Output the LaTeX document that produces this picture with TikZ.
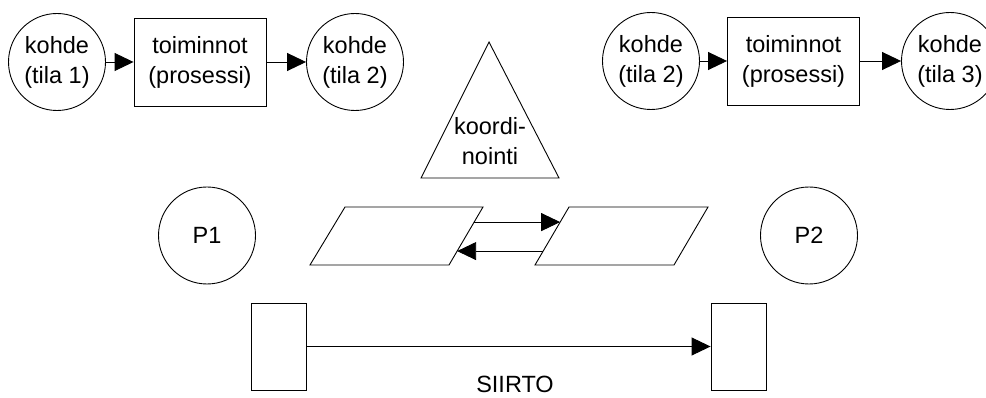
\documentclass[tikz,border=0pt]{standalone}
\usepackage{fontspec}
\setmainfont{Liberation Sans}
\usetikzlibrary{arrows.meta,calc}
\begin{document}
\begin{tikzpicture}[x=1pt,y=-1pt,
  every node/.style={font=\fontsize{23.5}{30}\selectfont},
  ln/.style={line width=0.9pt, draw=black},
  state/.style={ln, circle, minimum size=97pt, inner sep=0pt, align=center},
  proc/.style={ln, rectangle, minimum width=132pt, minimum height=88pt, inner sep=0pt, align=center},
  bar/.style={ln, rectangle, minimum width=55pt, minimum height=87pt, inner sep=0pt},
  arr/.style={line width=0.9pt, draw=black, -{Triangle[length=19pt,width=18pt]}},
]
\fill[white] (0,0) rectangle (986,398);
\useasboundingbox (0,0) rectangle (986,398);

% top left chain
\node[state] (c1) at (57,62) {kohde\\(tila 1)};
\node[proc]  (b1) at (200,62) {toiminnot\\(prosessi)};
\node[state] (c2) at (355,62) {kohde\\(tila 2)};
\draw[arr] (c1) -- (b1);
\draw[arr] (b1) -- (c2);

% top right chain
\node[state] (c3) at (651,61) {kohde\\(tila 2)};
\node[proc]  (b2) at (793.5,61) {toiminnot\\(prosessi)};
\node[state] (c4) at (950,61) {kohde\\(tila 3)};
\draw[arr] (c3) -- (b2);
\draw[arr] (b2) -- (c4);

% coordination triangle
\coordinate (ta) at (489,42);
\coordinate (tr) at (559,178);
\coordinate (tl) at (421,178);
\draw[ln, line join=miter] (ta) -- (tr) -- (tl) -- cycle;
\node[align=center] (koord) at (490,141) {koordi-\\nointi};

% processes
\node[state] (P1) at (207,235.5) {P1};
\node[state] (P2) at (809,235.5) {P2};

% parallelograms
\coordinate (p1bl) at (310,265);
\coordinate (p1br) at (449,265);
\coordinate (p1tr) at (483,207);
\coordinate (p1tl) at (345,207);
\draw[ln] (p1bl) -- (p1br) -- (p1tr) -- (p1tl) -- cycle;
\coordinate (p2bl) at (535,265);
\coordinate (p2br) at (674,265);
\coordinate (p2tr) at (708,207);
\coordinate (p2tl) at (569,207);
\draw[ln] (p2bl) -- (p2br) -- (p2tr) -- (p2tl) -- cycle;
\draw[arr] ($(p1tr)!0.26!(p1br)$) -- ($(p2tl)!0.26!(p2bl)$);
\draw[arr] ($(p2tl)!0.76!(p2bl)$) -- ($(p1tr)!0.76!(p1br)$);

% transfer
\node[bar] (r1) at (279,346.5) {};
\node[bar] (r2) at (738.5,346.5) {};
\draw[arr] (r1) -- (r2);
\node (siirto) at (515,384) {SIIRTO};
\end{tikzpicture}
\end{document}
